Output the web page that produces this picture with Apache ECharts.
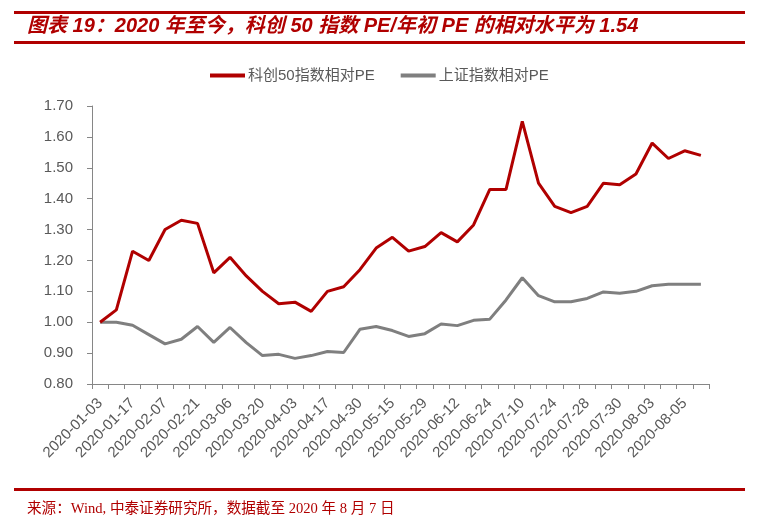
<!DOCTYPE html>
<html>
<head>
<meta charset="utf-8">
<script src="https://cdn.jsdelivr.net/npm/echarts@6/dist/echarts.min.js"></script>
<style>
html,body{margin:0;padding:0;background:#fff;}
#c{width:759px;height:528px;}
</style>
</head>
<body>
<div id="c"></div>
<script>
const categories = [
  '2020-01-03','2020-01-10','2020-01-17','2020-01-23','2020-02-07','2020-02-14',
  '2020-02-21','2020-02-28','2020-03-06','2020-03-13','2020-03-20','2020-03-27',
  '2020-04-03','2020-04-10','2020-04-17','2020-04-24','2020-04-30','2020-05-08',
  '2020-05-15','2020-05-22','2020-05-29','2020-06-05','2020-06-12','2020-06-19',
  '2020-06-24','2020-07-03','2020-07-10','2020-07-17','2020-07-24','2020-07-27',
  '2020-07-28','2020-07-29','2020-07-30','2020-07-31','2020-08-03','2020-08-04',
  '2020-08-05','2020-08-07'
];
const kc50 = [
  1.00,1.04,1.23,1.20,1.30,1.33,1.32,1.16,1.21,1.15,1.10,1.06,
  1.065,1.035,1.10,1.115,1.17,1.24,1.275,1.23,1.245,1.29,1.26,1.315,
  1.43,1.43,1.65,1.45,1.375,1.355,1.375,1.45,1.445,1.48,1.58,1.53,
  1.555,1.54
];
const szzs = [
  1.00,1.00,0.99,0.96,0.93,0.945,0.986,0.935,0.983,0.934,0.892,0.896,
  0.883,0.892,0.905,0.902,0.977,0.986,0.973,0.954,0.963,0.994,0.989,1.006,
  1.01,1.072,1.144,1.086,1.066,1.066,1.077,1.098,1.094,1.10,1.118,1.123,
  1.123,1.123
];
const seriesNames = ['科创50指数相对PE','上证指数相对PE'];
const titleText = '图表 19：2020 年至今，科创 50 指数 PE/年初 PE 的相对水平为 1.54';
const sourceText = '来源：Wind, 中泰证券研究所，数据截至 2020 年 8 月 7 日';

const RED = '#B00000';
const GRAY = '#7F7F7F';
const AX = '#868686';
const TXT = '#595959';
const FF = '"Liberation Sans", Arial, "Noto Sans CJK SC", sans-serif';

const chart = echarts.init(document.getElementById('c'));
chart.setOption({
  animation: false,
  backgroundColor: '#fff',
  graphic: [
    {type:'rect', shape:{x:14,y:11,width:731,height:3}, style:{fill:RED}},
    {type:'rect', shape:{x:14,y:41,width:731,height:3}, style:{fill:RED}},
    {type:'rect', shape:{x:14,y:488,width:731,height:3}, style:{fill:RED}},
    {type:'text', left:27, top:16, style:{text:titleText, fill:RED,
      font:'italic bold 20px "Liberation Sans", Arial, "Noto Sans CJK SC", sans-serif'}},
    {type:'text', left:27, top:502, style:{text:sourceText, fill:RED,
      font:'14.6px "Liberation Serif", "Noto Sans CJK SC", serif'}}
  ],
  legend: {
    left: 210, top: 68, padding: 0,
    itemWidth: 35, itemHeight: 4, itemGap: 26,
    icon: 'rect',
    textStyle: {color: TXT, fontSize: 15, fontFamily: FF, padding:[0,0,0,-2]},
    data: seriesNames
  },
  grid: {left: 92, right: 50, top: 106, bottom: 144, containLabel: false},
  xAxis: {
    type: 'category',
    data: categories,
    boundaryGap: true,
    axisLine: {lineStyle: {color: AX, width: 1}},
    axisTick: {show: true, interval: 0, length: 5, lineStyle: {color: AX}},
    axisLabel: {interval: 1, rotate: 45, color: TXT, fontSize: 15, fontFamily: FF, margin: 17}
  },
  yAxis: {
    type: 'value',
    min: 0.8, max: 1.7, interval: 0.1,
    axisLine: {show: true, lineStyle: {color: AX, width: 1}},
    axisTick: {show: true, length: 5, lineStyle: {color: AX}},
    splitLine: {show: false},
    axisLabel: {color: TXT, fontSize: 15, fontFamily: FF, margin: 19,
      formatter: v => v.toFixed(2)}
  },
  series: [
    {name: seriesNames[0], type: 'line', data: kc50, symbol: 'none',
     lineStyle: {color: RED, width: 3}, itemStyle: {color: RED}, z: 3},
    {name: seriesNames[1], type: 'line', data: szzs, symbol: 'none',
     lineStyle: {color: GRAY, width: 3}, itemStyle: {color: GRAY}, z: 2}
  ]
});
</script>
</body>
</html>
